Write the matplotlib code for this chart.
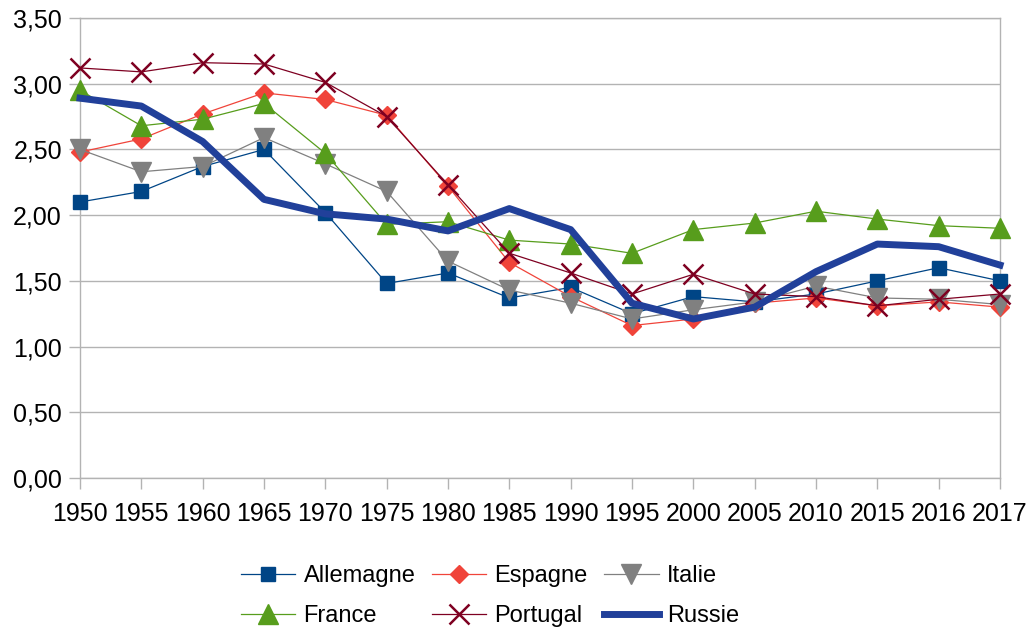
import matplotlib
matplotlib.use("Agg")
import matplotlib.pyplot as plt
from matplotlib.ticker import FuncFormatter

# fertility rates
years = ["1950", "1955", "1960", "1965", "1970", "1975", "1980", "1985",
         "1990", "1995", "2000", "2005", "2010", "2015", "2016", "2017"]

allemagne = [2.10, 2.18, 2.37, 2.50, 2.02, 1.48, 1.56, 1.37,
             1.45, 1.25, 1.38, 1.34, 1.40, 1.50, 1.60, 1.50]
espagne = [2.48, 2.58, 2.77, 2.93, 2.88, 2.76, 2.22, 1.64,
           1.38, 1.16, 1.21, 1.33, 1.37, 1.31, 1.34, 1.30]
italie = [2.50, 2.33, 2.37, 2.59, 2.39, 2.18, 1.65, 1.43,
          1.33, 1.21, 1.28, 1.34, 1.46, 1.37, 1.36, 1.32]
france = [2.95, 2.68, 2.73, 2.85, 2.47, 1.93, 1.95, 1.81,
          1.78, 1.71, 1.89, 1.94, 2.03, 1.97, 1.92, 1.90]
portugal = [3.12, 3.09, 3.16, 3.15, 3.01, 2.75, 2.23, 1.71,
            1.56, 1.40, 1.55, 1.40, 1.38, 1.31, 1.36, 1.40]
russie = [2.89, 2.83, 2.56, 2.12, 2.01, 1.97, 1.88, 2.05,
          1.89, 1.33, 1.21, 1.30, 1.57, 1.78, 1.76, 1.62]

plt.rcParams["font.family"] = ["Liberation Sans", "DejaVu Sans"]

fig = plt.figure(figsize=(10.33, 6.3), dpi=100)
ax = fig.add_axes([80 / 1033, 1 - 478 / 630, 920 / 1033, 460 / 630])

x = list(range(len(years)))
thin = 0.9

ax.plot(x, allemagne, color="#004586", lw=thin, marker="s", ms=10.5,
        label="Allemagne", clip_on=False, zorder=3)
ax.plot(x, espagne, color="#f0443a", lw=thin, marker="D", ms=9.5,
        label="Espagne", clip_on=False, zorder=3)
ax.plot(x, italie, color="#808080", lw=thin, marker="v", ms=14,
        label="Italie", clip_on=False, zorder=3)
ax.plot(x, france, color="#579d1c", lw=thin, marker="^", ms=14,
        label="France", clip_on=False, zorder=3)
ax.plot(x, portugal, color="#7e0021", lw=thin, marker="x", ms=14, mew=1.8,
        label="Portugal", clip_on=False, zorder=3)
ax.plot(x, russie, color="#21409a", lw=5, label="Russie",
        clip_on=False, zorder=4)

ax.set_xlim(0, len(years) - 1)
ax.set_ylim(0, 3.5)
ax.set_xticks(x)
ax.set_xticklabels(years)
ax.set_yticks([0, 0.5, 1, 1.5, 2, 2.5, 3, 3.5])
ax.yaxis.set_major_formatter(FuncFormatter(lambda v, p: f"{v:.2f}".replace(".", ",")))

ax.grid(axis="y", color="#b3b3b3", lw=1)
ax.set_axisbelow(True)
for s in ax.spines.values():
    s.set_color("#b3b3b3")
    s.set_linewidth(1)
ax.tick_params(axis="both", colors="#b3b3b3", length=8, width=1,
               labelcolor="black", labelsize=18)
ax.tick_params(axis="x", pad=9)
ax.tick_params(axis="y", pad=5)

# legend, column-major fill to get rows Allemagne/Espagne/Italie, France/Portugal/Russie
h, l = ax.get_legend_handles_labels()
order = [0, 3, 1, 4, 2, 5]
fig.legend([h[i] for i in order], [l[i] for i in order], ncol=3,
           loc="center", bbox_to_anchor=(490 / 1033, 1 - 596 / 630),
           frameon=False, fontsize=17, handlelength=2.3, handletextpad=0.35,
           columnspacing=0.7, labelspacing=0.75, borderpad=0)

fig.savefig("out.png", dpi=100)
